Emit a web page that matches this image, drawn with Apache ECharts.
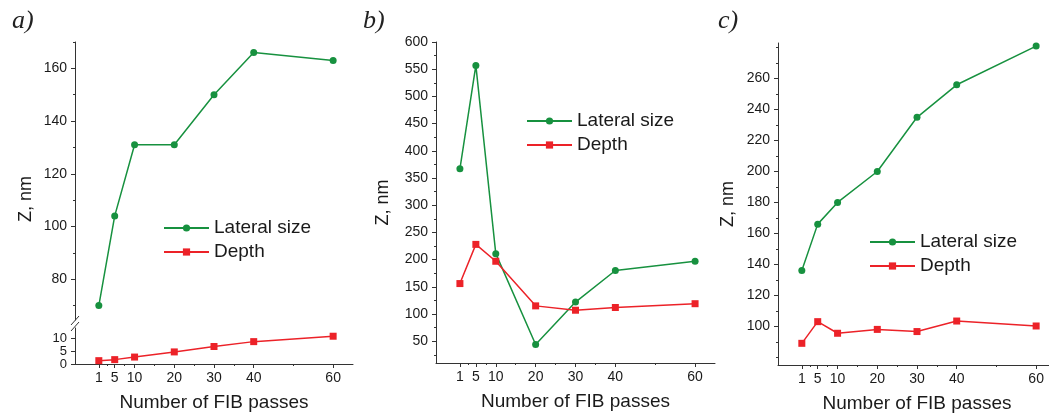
<!DOCTYPE html>
<html>
<head>
<meta charset="utf-8">
<script src="https://cdn.jsdelivr.net/npm/echarts@6/dist/echarts.min.js"></script>
<style>
  html, body { margin: 0; padding: 0; background: #fff; }
  #main { width: 1049px; height: 414px; }
</style>
</head>
<body>
<div id="main"></div>
<script>
// number of FIB passes (shared by all three panels)
const passes = [1, 5, 10, 20, 30, 40, 60];

// a)
const lateralA = [70, 104, 131, 131, 150, 166, 163];
const depthA = [1.3, 1.7, 2.7, 4.7, 6.8, 8.7, 10.8];
// b)
const lateralB = [367, 557, 211, 44, 122, 180, 197];
const depthB = [156, 228, 197, 115, 107, 112, 119];
// c)
const lateralC = [136, 166, 180, 200, 235, 256, 281];
const depthC = [89, 103, 95.5, 98, 96.6, 103.4, 100.2];

// tick labels
const xTicks = [1, 5, 10, 20, 30, 40, 60];
const xMinor = [3, 7.5, 15, 25, 35, 50];
const yTicksAUp = [80, 100, 120, 140, 160];
const yMinorAUp = [70, 90, 110, 130, 150, 170];
const yTicksALow = [0, 5, 10];
const yTicksB = [50, 100, 150, 200, 250, 300, 350, 400, 450, 500, 550, 600];
const yMinorB = [25, 75, 125, 175, 225, 275, 325, 375, 425, 475, 525, 575];
const yTicksC = [100, 120, 140, 160, 180, 200, 220, 240, 260];
const yMinorC = [80, 90, 110, 130, 150, 170, 190, 210, 230, 250, 270, 280];

const GREEN = "#17913f";
const RED = "#ec2228";
const AXIS = "#333";
const FONT = "Liberation Sans";

const pairs = (ys) => passes.map((x, i) => [x, ys[i]]);

// main x axis with labels and long ticks
function xMain(grid, name) {
  return {
    type: "value", gridIndex: grid, min: -5, max: 65, position: "bottom",
    name: name, nameLocation: "middle", nameGap: 29,
    nameTextStyle: { fontFamily: FONT, fontSize: 19, color: "#1a1a1a" },
    axisLine: { show: true, onZero: false, lineStyle: { color: AXIS } },
    axisTick: { show: true, length: 4, customValues: xTicks, lineStyle: { color: AXIS } },
    axisLabel: { customValues: xTicks, margin: 7, fontFamily: FONT, fontSize: 14, color: "#1a1a1a" },
    splitLine: { show: false },
  };
}
// invisible helper axis for the short ticks
function xMinorAxis(grid) {
  return {
    type: "value", gridIndex: grid, min: -5, max: 65, position: "bottom",
    axisLine: { show: false, onZero: false },
    axisTick: { show: true, length: 2, customValues: xMinor, lineStyle: { color: AXIS } },
    axisLabel: { show: false },
    splitLine: { show: false },
  };
}
function yMain(grid, min, max, ticks, name, gap, pad, size) {
  return {
    type: "value", gridIndex: grid, min: min, max: max, position: "left",
    name: name, nameLocation: "middle", nameGap: gap,
    nameTextStyle: { fontFamily: FONT, fontSize: 18, color: "#1a1a1a", padding: pad || 0 },
    axisLine: { show: true, onZero: false, lineStyle: { color: AXIS } },
    axisTick: { show: true, length: 4, customValues: ticks, lineStyle: { color: AXIS } },
    axisLabel: {
      customValues: ticks, margin: 8, hideOverlap: false,
      fontFamily: FONT, fontSize: size || 14, color: "#1a1a1a",
    },
    splitLine: { show: false },
  };
}
function yMinorAxis(grid, min, max, ticks) {
  return {
    type: "value", gridIndex: grid, min: min, max: max, position: "left",
    axisLine: { show: false, onZero: false },
    axisTick: { show: true, length: 2, customValues: ticks, lineStyle: { color: AXIS } },
    axisLabel: { show: false },
    splitLine: { show: false },
  };
}

function lateral(name, x, y, data) {
  return {
    name: name, type: "line", xAxisIndex: x, yAxisIndex: y, data: data,
    symbol: "circle", symbolSize: 7, color: GREEN,
    lineStyle: { width: 1.5, color: GREEN }, itemStyle: { color: GREEN },
  };
}
function depth(name, x, y, data) {
  return {
    name: name, type: "line", xAxisIndex: x, yAxisIndex: y, data: data,
    symbol: "rect", symbolSize: 7, color: RED,
    lineStyle: { width: 1.5, color: RED }, itemStyle: { color: RED },
  };
}

function legend(left, top) {
  return {
    left: left, top: top, orient: "vertical", padding: 0,
    data: ["Lateral size", "Depth"],
    itemWidth: 45, itemHeight: 9, itemGap: 4, selectedMode: false,
    textStyle: { fontFamily: FONT, fontSize: 19, color: "#1a1a1a", lineHeight: 20 },
  };
}
function panelTitle(text, left) {
  return {
    text: text, left: left, top: 8, padding: 0,
    textStyle: { fontFamily: "Liberation Serif", fontStyle: "italic", fontWeight: "normal", fontSize: 26, color: "#222" },
  };
}

const option = {
  animation: false,
  backgroundColor: "#fff",
  title: [panelTitle("a)", 12), panelTitle("b)", 363), panelTitle("c)", 718)],
  legend: [legend(163, 218), legend(526, 111), legend(869, 232)],
  grid: [
    { left: 75, top: 42, width: 278, height: 278, outerBoundsMode: "none" },
    { left: 75, top: 328, width: 278, height: 36, outerBoundsMode: "none" },
    { left: 436, top: 42, width: 279, height: 321, outerBoundsMode: "none" },
    { left: 778, top: 43, width: 278, height: 322, outerBoundsMode: "none" },
  ],
  xAxis: [
    { type: "value", gridIndex: 0, min: -5, max: 65, show: false },
    xMain(1, "Number of FIB passes"),
    xMinorAxis(1),
    xMain(2, "Number of FIB passes"),
    xMinorAxis(2),
    xMain(3, "Number of FIB passes"),
    xMinorAxis(3),
  ],
  yAxis: [
    yMain(0, 64.5, 170, yTicksAUp, "Z, nm", 40, [0, 36, 0, 0]),
    yMinorAxis(0, 64.5, 170, yMinorAUp),
    yMain(1, 0, 14, yTicksALow, "", 0, 0, 13),
    yMain(2, 10, 600, yTicksB, "Z, nm", 44),
    yMinorAxis(2, 10, 600, yMinorB),
    yMain(3, 75, 283, yTicksC, "Z, nm", 41),
    yMinorAxis(3, 75, 283, yMinorC),
  ],
  series: [
    lateral("Lateral size", 0, 0, pairs(lateralA)),
    depth("Depth", 1, 2, pairs(depthA)),
    lateral("Lateral size", 3, 3, pairs(lateralB)),
    depth("Depth", 3, 3, pairs(depthB)),
    lateral("Lateral size", 5, 5, pairs(lateralC)),
    depth("Depth", 5, 5, pairs(depthC)),
  ],
  graphic: [
    // axis break marks on panel a
    { type: "line", shape: { x1: 71, y1: 325, x2: 79, y2: 316 }, style: { stroke: AXIS, lineWidth: 1 } },
    { type: "line", shape: { x1: 71, y1: 331, x2: 79, y2: 322 }, style: { stroke: AXIS, lineWidth: 1 } },
  ],
};

const chart = echarts.init(document.getElementById("main"));
chart.setOption(option);
</script>
</body>
</html>
